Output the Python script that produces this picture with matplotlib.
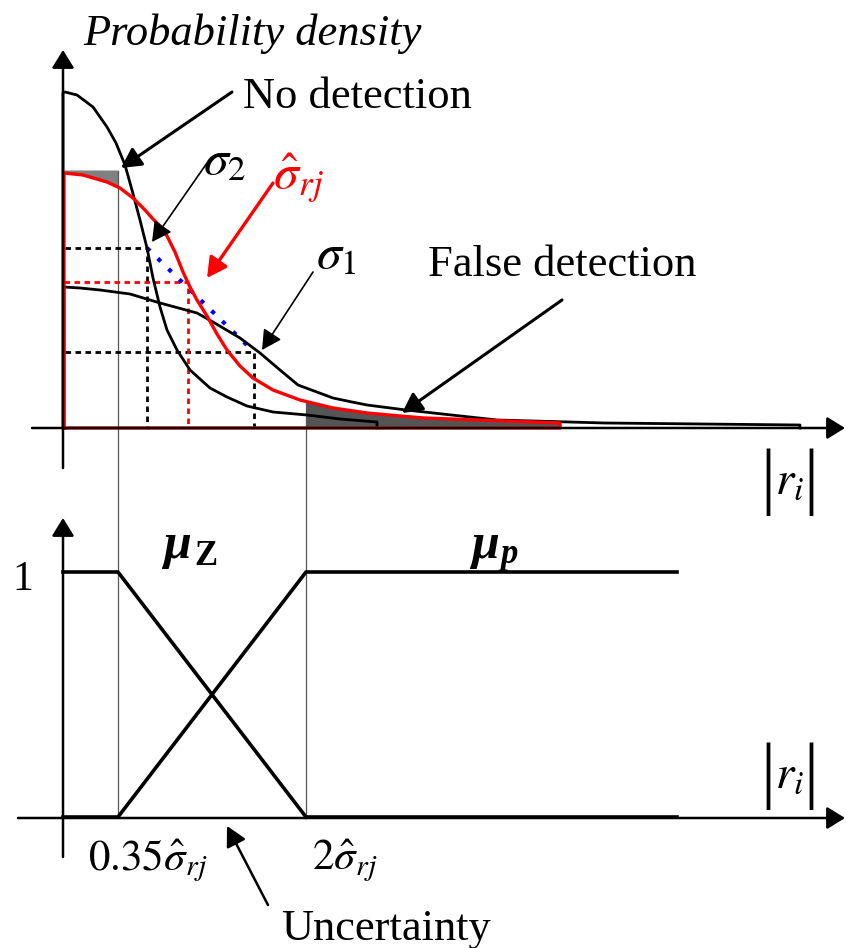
import numpy as np
import matplotlib
matplotlib.use('Agg')
import matplotlib.pyplot as plt

plt.rcParams['font.family'] = ['Liberation Serif', 'DejaVu Serif']
plt.rcParams['mathtext.fontset'] = 'stix'

# diagram coordinates (x to the right, y downward, figure pixels)
# upper panel: probability densities, closed against the axis
sigma2_x = [63, 63, 65, 77, 93, 107, 116, 125, 132, 140, 147, 153, 160, 167, 177, 190, 210, 227, 247, 273, 307, 340, 377, 377]
sigma2_y = [428, 93, 92, 95, 107, 127, 143, 165, 190, 220, 248, 278, 307, 330, 350, 370, 388, 397, 406, 412, 415, 419, 422, 428]

sigma1_x = [64, 64, 80, 100, 130, 160, 197, 213, 240, 260, 280, 298, 333, 352, 367, 406, 497, 605, 800, 800]
sigma1_y = [428, 287, 288, 290, 294, 303, 313, 322, 338, 353, 370, 385, 398, 402, 405, 410, 420, 423, 425, 428]

sighat_x = [64, 64, 83, 107, 120, 133, 145, 153, 160, 167, 175, 183, 190, 197, 207, 217, 227, 240, 253, 273, 300, 333, 367, 400, 424, 560, 560, 64]
sighat_y = [428, 173, 175, 182, 188, 198, 210, 219, 226, 236, 252, 272, 287, 300, 316, 334, 350, 366, 378, 390, 400, 408, 413, 416, 418, 423, 428, 428]

# thresholds 0.35*sigma and 2*sigma
thr_low = 118
thr_high = 306

# dashed guides: (x where it meets the curve, y level)
guide_black = [(147, 248), (254, 352)]
guide_red = (188, 282)

# lower panel: membership functions
mu_z_x = [63, 118, 306]
mu_z_y = [572, 572, 817]
mu_p_x = [63, 118, 306, 677]
mu_p_y = [817, 817, 572, 572]
zero_x = [306, 677]
zero_y = [817, 817]

# annotation arrows: (tail, tip, colour, width)
arrows = [
    ((232, 92), (121, 168), 'black', 2.2),
    ((207, 163), (152, 242), 'black', 1.2),
    ((273, 183), (207, 278), 'red', 2.4),
    ((313, 272), (262, 350), 'black', 1.2),
    ((562, 300), (402, 413), 'black', 2.2),
    ((268, 905), (227, 826), 'black', 1.8),
]
axis_arrows = [
    ((63, 468), (63, 50)),
    ((32, 428), (845, 428)),
    ((63, 857), (63, 518)),
    ((18, 818), (845, 818)),
]

fig = plt.figure(figsize=(8.46, 9.48), dpi=100)
ax = fig.add_axes([0, 0, 1, 1])
ax.set_xlim(0, 846)
ax.set_ylim(948, 0)
ax.axis('off')

# shaded error areas (open part of the red outline, without the closing points)
n_open = len(sighat_x) - 2
sx = np.array(sighat_x[1:n_open], dtype=float)
sy = np.array(sighat_y[1:n_open], dtype=float)
m = sx <= thr_low
xs = np.append(sx[m], thr_low)
ys = np.append(sy[m], np.interp(thr_low, sx, sy))
ax.fill_between(xs, 170, ys, color='#808080', lw=0)
m = sx >= thr_high
xs = np.insert(sx[m], 0, thr_high)
ys = np.insert(sy[m], 0, np.interp(thr_high, sx, sy))
ax.fill_between(xs, ys, 428, color='#555555', lw=0)

# axes arrows
for tail, tip in axis_arrows:
    ax.annotate('', xy=tip, xytext=tail,
                arrowprops=dict(arrowstyle='-|>,head_length=0.55,head_width=0.34',
                                mutation_scale=20, lw=1.8, color='black',
                                shrinkA=0, shrinkB=0))

# threshold verticals
ax.plot([thr_low, thr_low], [171, 818], color='#555555', lw=0.9)
ax.plot([thr_high, thr_high], [400, 818], color='#555555', lw=0.9)

# dashed guides
for gx, gy in guide_black:
    ax.plot([65, gx, gx], [gy, gy, 428], color='black', lw=2, ls=(0, (2, 1.6)))
ax.plot([64, guide_red[0], guide_red[0]], [guide_red[1], guide_red[1], 428],
        color='red', lw=2, ls=(0, (2, 1.6)))
ax.plot([guide_black[0][0], guide_black[1][0]], [guide_black[0][1], guide_black[1][1]],
        color='blue', lw=3, ls=(0, (1, 2.6)))

ax.plot(sigma2_x, sigma2_y, color='black', lw=2)
ax.plot(sigma1_x, sigma1_y, color='black', lw=2)
ax.plot(sighat_x, sighat_y, color='red', lw=2.4)

ax.plot(mu_z_x, mu_z_y, color='black', lw=2.6)
ax.plot(mu_p_x, mu_p_y, color='black', lw=2.6)
ax.plot(zero_x, zero_y, color='black', lw=2.6)

for tail, tip, col, w in arrows:
    ax.annotate('', xy=tip, xytext=tail,
                arrowprops=dict(arrowstyle='-|>,head_length=0.6,head_width=0.32',
                                mutation_scale=20, lw=w, color=col,
                                shrinkA=0, shrinkB=0))

# labels
ax.text(83, 45, 'Probability density', fontsize=32, style='italic', va='baseline')
ax.text(243, 108, 'No detection', fontsize=32, va='baseline')
ax.text(428, 276, 'False detection', fontsize=32, va='baseline')
ax.text(281, 940, 'Uncertainty', fontsize=32, va='baseline')
ax.text(203, 162, r'$\sigma_2$', fontsize=36, va='center')
ax.text(316, 256, r'$\sigma_1$', fontsize=36, va='center')
ax.text(273, 178, r'$\hat{\sigma}_{rj}$', fontsize=36, va='center', color='red')
ax.text(12, 590, '1', fontsize=30, va='baseline')
ax.text(88, 870, r'$0.35\hat{\sigma}_{rj}$', fontsize=31, va='baseline')
ax.text(312, 870, r'$2\hat{\sigma}_{rj}$', fontsize=31, va='baseline')

for ry in (482, 776):
    ax.text(768, ry, '|', fontsize=54, va='center', ha='center')
    ax.text(811, ry, '|', fontsize=54, va='center', ha='center')
    ax.text(775, ry, r'$r_i$', fontsize=34, va='center')

ax.text(163, 558, 'μ', fontsize=36, weight='bold', style='italic', va='baseline')
ax.text(194, 565, 'Z', fontsize=25, weight='bold', va='baseline')
ax.text(471, 558, 'μ', fontsize=36, weight='bold', style='italic', va='baseline')
ax.text(500, 563, 'p', fontsize=25, weight='bold', style='italic', va='baseline')

fig.savefig('out.png', dpi=100)
